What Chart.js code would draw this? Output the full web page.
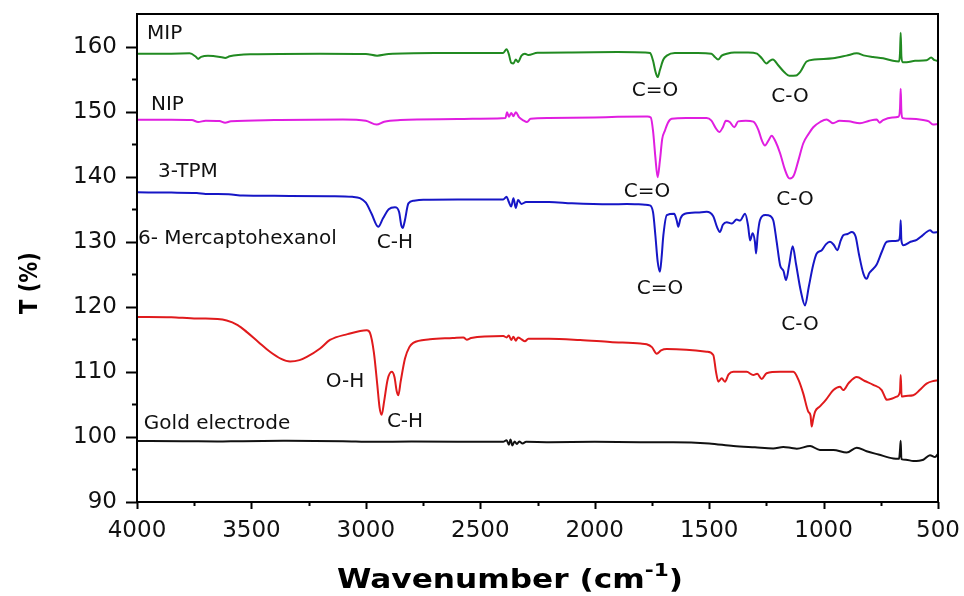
<!DOCTYPE html>
<html>
<head>
<meta charset="utf-8">
<title>FTIR spectra</title>
<script src="https://cdn.jsdelivr.net/npm/chart.js@4.4.1/dist/chart.umd.min.js"></script>
<style>
  html, body { margin: 0; padding: 0; background: #fff; }
  #wrap { width: 964px; height: 596px; }
</style>
</head>
<body>
<div id="wrap"><canvas id="ftir" width="964" height="596"></canvas></div>
<script>
// wavenumber (cm-1) / transmittance (%) pairs for each trace
const mipWn = [4000, 3850, 3770, 3745, 3733, 3720, 3690, 3660, 3630, 3615, 3595, 3500, 3200, 3000, 2951, 2900, 2700, 2400, 2385, 2375, 2365, 2355, 2345, 2335, 2320, 2305, 2290, 2250, 2100, 1900, 1780, 1758, 1745, 1735, 1725, 1715, 1700, 1685, 1650, 1550, 1490, 1475, 1461, 1445, 1423, 1390, 1330, 1291, 1270, 1249, 1235, 1221, 1200, 1170, 1150, 1120, 1100, 1074, 1040, 959, 900, 855, 820, 784, 740, 697, 670, 666, 663, 660, 655, 637, 600, 550, 530, 515, 500];
const mipT = [158.9, 158.9, 158.95, 158.5, 158.1, 158.4, 158.6, 158.5, 158.35, 158.25, 158.5, 158.8, 158.9, 158.85, 158.6, 158.85, 159.0, 159.0, 159.6, 158.8, 157.5, 157.4, 158.0, 157.6, 158.6, 158.9, 158.7, 159.05, 159.1, 159.15, 159.1, 159.0, 157.8, 156.2, 155.3, 156.4, 158.0, 158.6, 159.0, 159.0, 158.9, 158.4, 158.0, 158.6, 158.9, 159.1, 159.1, 158.9, 158.2, 157.4, 157.8, 158.0, 157.2, 156.0, 155.5, 155.55, 156.2, 157.7, 158.0, 158.2, 158.6, 158.95, 158.6, 158.4, 158.2, 157.8, 157.7, 159.0, 162.1, 158.5, 157.6, 157.6, 157.8, 157.9, 158.3, 157.9, 157.8];

const nipWn = [4000, 3850, 3760, 3733, 3700, 3640, 3615, 3590, 3400, 3100, 3000, 2953, 2920, 2850, 2600, 2428, 2390, 2383, 2375, 2365, 2355, 2345, 2330, 2310, 2296, 2280, 2200, 2000, 1900, 1770, 1755, 1745, 1735, 1725, 1715, 1705, 1693, 1680, 1664, 1600, 1511, 1490, 1470, 1456, 1440, 1427, 1410, 1390, 1373, 1340, 1307, 1285, 1270, 1256, 1240, 1227, 1210, 1190, 1170, 1155, 1147, 1130, 1110, 1089, 1065, 1045, 1015, 987, 959, 930, 890, 841, 800, 768, 755, 740, 700, 673, 666, 663, 660, 655, 620, 565, 540, 522, 500];
const nipT = [148.75, 148.75, 148.7, 148.4, 148.6, 148.55, 148.3, 148.5, 148.7, 148.8, 148.6, 148.0, 148.45, 148.7, 148.85, 148.95, 149.0, 149.9, 149.2, 149.8, 149.3, 149.9, 149.1, 148.6, 148.4, 148.9, 149.0, 149.1, 149.2, 149.25, 149.1, 147.0, 143.0, 139.9, 142.5, 145.8, 147.1, 148.3, 148.9, 149.0, 149.0, 148.6, 147.4, 146.85, 147.6, 148.6, 148.4, 147.6, 148.5, 148.6, 148.45, 147.2, 145.6, 144.8, 145.6, 146.3, 145.4, 143.6, 141.2, 139.9, 139.7, 140.2, 142.5, 145.1, 146.6, 147.6, 148.4, 148.8, 148.2, 148.6, 148.5, 148.2, 148.6, 148.8, 148.3, 148.7, 149.1, 149.2, 150.5, 153.5, 150.0, 149.0, 148.9, 148.7, 148.5, 148.0, 148.1];

const tpmWn = [4000, 3850, 3739, 3700, 3600, 3537, 3400, 3157, 3060, 3026, 3000, 2975, 2946, 2925, 2900, 2873, 2855, 2845, 2839, 2830, 2814, 2790, 2749, 2600, 2400, 2385, 2375, 2365, 2355, 2345, 2335, 2320, 2300, 2200, 2100, 1933, 1860, 1780, 1760, 1745, 1735, 1725, 1715, 1708, 1700, 1685, 1653, 1642, 1635, 1625, 1606, 1550, 1511, 1482, 1465, 1453, 1440, 1423, 1401, 1380, 1365, 1343, 1330, 1321, 1310, 1300, 1295, 1288, 1278, 1255, 1241, 1220, 1205, 1190, 1175, 1164, 1150, 1135, 1120, 1100, 1081, 1065, 1045, 1030, 1008, 990, 972, 955, 940, 925, 914, 895, 877, 860, 845, 826, 812, 800, 790, 768, 745, 724, 700, 673, 666, 663, 660, 651, 620, 593, 570, 550, 535, 520, 500];
const tpmT = [137.6, 137.55, 137.5, 137.35, 137.3, 137.1, 137.05, 137.0, 136.9, 136.7, 136.0, 134.3, 132.3, 133.6, 135.0, 135.3, 134.6, 132.5, 132.1, 133.2, 135.9, 136.3, 136.45, 136.5, 136.5, 136.9, 136.1, 135.4, 136.7, 135.2, 136.4, 135.8, 136.1, 136.1, 135.9, 135.75, 135.8, 135.7, 135.6, 134.5, 131.0, 127.0, 125.4, 127.5, 131.0, 134.1, 134.3, 133.3, 132.3, 133.6, 134.3, 134.5, 134.6, 133.9, 132.2, 131.5, 132.6, 133.0, 132.8, 133.4, 133.25, 134.3, 132.5, 130.2, 131.3, 130.0, 128.2, 131.0, 133.3, 134.1, 134.06, 133.3, 130.0, 126.4, 125.5, 124.1, 126.5, 129.3, 126.5, 122.5, 120.2, 123.0, 126.5, 128.2, 128.7, 129.6, 130.0, 129.5, 128.7, 130.2, 131.0, 131.2, 131.5, 130.8, 128.0, 125.1, 124.3, 125.2, 125.6, 126.5, 128.5, 130.0, 130.1, 130.2, 131.0, 133.3, 130.2, 129.45, 130.0, 130.3, 130.9, 131.5, 131.75, 131.4, 131.5];

const mchWn = [4000, 3850, 3739, 3700, 3608, 3560, 3521, 3470, 3419, 3370, 3331, 3290, 3258, 3200, 3157, 3080, 2996, 2982, 2965, 2950, 2940, 2931, 2920, 2905, 2887, 2875, 2865, 2858, 2848, 2829, 2810, 2793, 2720, 2620, 2574, 2559, 2540, 2399, 2385, 2375, 2365, 2355, 2345, 2335, 2320, 2305, 2290, 2200, 2064, 1933, 1800, 1773, 1750, 1729, 1710, 1685, 1600, 1511, 1482, 1470, 1460, 1445, 1431, 1415, 1394, 1336, 1307, 1290, 1270, 1249, 1190, 1132, 1110, 1089, 1067, 1057, 1052, 1045, 1037, 1016, 990, 957, 928, 914, 890, 855, 820, 783, 746, 730, 724, 700, 680, 666, 663, 659, 640, 608, 580, 550, 520, 500];
const mchT = [118.45, 118.4, 118.2, 118.2, 117.9, 117.2, 116.15, 114.6, 113.1, 112.0, 111.6, 111.8, 112.3, 113.6, 114.9, 115.8, 116.4, 116.0, 113.0, 108.0, 104.5, 103.4, 105.5, 108.8, 110.0, 109.2, 107.0, 106.4, 108.5, 112.05, 113.8, 114.45, 115.0, 115.2, 115.3, 114.95, 115.2, 115.5, 115.3, 115.6, 114.9, 115.4, 114.8, 115.3, 115.0, 114.7, 115.1, 115.1, 114.9, 114.6, 114.35, 114.25, 113.8, 112.8, 113.3, 113.5, 113.4, 113.1, 112.6, 110.0, 108.5, 109.0, 108.5, 109.6, 110.0, 110.0, 109.5, 109.7, 108.9, 109.8, 110.0, 110.0, 108.8, 106.7, 103.9, 103.3, 101.6, 102.8, 103.9, 104.7, 105.7, 107.2, 107.7, 107.2, 108.3, 109.2, 108.6, 108.0, 107.2, 106.0, 105.7, 105.9, 106.2, 107.0, 109.5, 106.2, 106.3, 106.4, 107.2, 108.2, 108.6, 108.7];

const goldWn = [4000, 3800, 3650, 3550, 3361, 3100, 2967, 2800, 2400, 2385, 2375, 2368, 2360, 2350, 2340, 2330, 2315, 2300, 2200, 2000, 1800, 1657, 1500, 1394, 1300, 1220, 1176, 1140, 1117, 1059, 1016, 957, 899, 855, 812, 760, 695, 670, 666, 663, 660, 640, 608, 564, 535, 513, 500];
const goldT = [99.36, 99.35, 99.3, 99.35, 99.4, 99.35, 99.25, 99.3, 99.25, 99.5, 98.8, 99.6, 98.7, 99.3, 98.9, 99.3, 99.0, 99.25, 99.2, 99.25, 99.2, 99.2, 99.0, 98.6, 98.4, 98.24, 98.45, 98.3, 98.2, 98.6, 98.0, 98.0, 97.6, 98.35, 97.8, 97.3, 96.7, 96.65, 98.0, 99.4, 96.6, 96.5, 96.3, 96.5, 97.2, 96.9, 97.4];

// band assignments and trace names, anchored in data units
const noteText = ["MIP", "NIP", "3-TPM", "6- Mercaptohexanol", "Gold electrode",
  "C=O", "C-O", "C=O", "C-O", "C-H", "C=O", "C-O", "O-H", "C-H"];
const noteWn = [3956, 3939, 3908, 3996, 3970, 1737, 1147, 1772, 1125, 2873, 1715, 1103, 3091, 2829];
const noteT = [162.0, 151.1, 140.7, 130.5, 102.0, 153.2, 152.3, 137.7, 136.4, 129.9, 122.7, 117.3, 108.4, 102.4];

const yTicks = [90, 100, 110, 120, 130, 140, 150, 160];
const xTicks = [4000, 3500, 3000, 2500, 2000, 1500, 1000, 500];

const FONT = "'DejaVu Sans', 'Liberation Sans', Arial, sans-serif";

function pairs(xs, ys) {
  return xs.map((x, i) => ({ x, y: ys[i] }));
}

function trace(label, xs, ys, color) {
  return {
    label,
    data: pairs(xs, ys),
    borderColor: color,
    borderWidth: 2,
    pointRadius: 0,
    fill: false,
    cubicInterpolationMode: "monotone",
  };
}

const frameAndNotes = {
  id: "frameAndNotes",
  afterDraw(chart) {
    const { ctx, chartArea: a, scales } = chart;
    const x = scales.x;
    const y = scales.y;
    ctx.save();
    ctx.strokeStyle = "#000";
    ctx.lineWidth = 2;
    ctx.strokeRect(a.left, a.top, a.right - a.left, a.bottom - a.top);

    // outward tick marks, minor ones halfway between labels
    ctx.beginPath();
    for (let v = 90; v <= 160; v += 5) {
      const py = Math.round(y.getPixelForValue(v)) + 0.5;
      const len = v % 10 === 0 ? 11 : 5;
      ctx.moveTo(a.left, py);
      ctx.lineTo(a.left - len, py);
    }
    for (let v = 500; v <= 4000; v += 250) {
      const px = Math.round(x.getPixelForValue(v)) + 0.5;
      const len = v % 500 === 0 ? 7 : 4;
      ctx.moveTo(px, a.bottom);
      ctx.lineTo(px, a.bottom + len);
    }
    ctx.stroke();

    ctx.fillStyle = "#111";
    ctx.font = `20px ${FONT}`;
    ctx.textBaseline = "middle";
    noteText.forEach((text, i) => {
      ctx.textAlign = i < 5 ? "left" : "center";
      ctx.fillText(text, x.getPixelForValue(noteWn[i]), y.getPixelForValue(noteT[i]));
    });

    // axis titles
    ctx.fillStyle = "#000";
    ctx.save();
    ctx.translate(30, 283);
    ctx.rotate(-Math.PI / 2);
    ctx.scale(1, 1.2);
    ctx.font = `bold 21px ${FONT}`;
    ctx.textAlign = "center";
    ctx.textBaseline = "middle";
    ctx.fillText("T (%)", 0, 0);
    ctx.restore();

    ctx.save();
    ctx.translate(510, 588);
    ctx.scale(1.2, 1);
    ctx.textBaseline = "alphabetic";
    ctx.textAlign = "left";
    ctx.font = `bold 26px ${FONT}`;
    const main = "Wavenumber (cm";
    const sup = "-1";
    const close = ")";
    const wMain = ctx.measureText(main).width;
    const wClose = ctx.measureText(close).width;
    ctx.font = `bold 18px ${FONT}`;
    const wSup = ctx.measureText(sup).width;
    let cx = -(wMain + wSup + wClose) / 2;
    ctx.font = `bold 26px ${FONT}`;
    ctx.fillText(main, cx, 0);
    cx += wMain;
    ctx.font = `bold 18px ${FONT}`;
    ctx.fillText(sup, cx, -12);
    cx += wSup;
    ctx.font = `bold 26px ${FONT}`;
    ctx.fillText(close, cx, 0);
    ctx.restore();
    ctx.restore();
  },
};

new Chart(document.getElementById("ftir"), {
  type: "line",
  data: {
    datasets: [
      trace("Gold electrode", goldWn, goldT, "#111111"),
      trace("6- Mercaptohexanol", mchWn, mchT, "#e01a1c"),
      trace("3-TPM", tpmWn, tpmT, "#1616c6"),
      trace("NIP", nipWn, nipT, "#e01ee0"),
      trace("MIP", mipWn, mipT, "#218a21"),
    ],
  },
  options: {
    responsive: false,
    animation: false,
    layout: { padding: { left: 0, top: 14, right: 26, bottom: 0 } },
    plugins: { legend: { display: false }, tooltip: { enabled: false } },
    scales: {
      x: {
        type: "linear",
        reverse: true,
        min: 500,
        max: 4000,
        grid: { display: false, drawTicks: false },
        border: { display: false },
        ticks: {
          stepSize: 500,
          padding: 15,
          color: "#111",
          font: { family: FONT, size: 23 },
          maxRotation: 0,
          callback: (v) => (xTicks.includes(v) ? String(v) : ""),
        },
        afterFit(scale) {
          scale.height = 94;
          scale.paddingLeft = 0;
          scale.paddingRight = 0;
        },
      },
      y: {
        min: 90,
        max: 165,
        grid: { display: false, drawTicks: false },
        border: { display: false },
        ticks: {
          stepSize: 10,
          includeBounds: false,
          padding: 20,
          color: "#111",
          font: { family: FONT, size: 23 },
          callback: (v) => (yTicks.includes(v) ? String(v) : ""),
        },
        afterFit(scale) {
          scale.width = 137;
          scale.paddingTop = 0;
          scale.paddingBottom = 0;
        },
      },
    },
  },
  plugins: [frameAndNotes],
});
</script>
</body>
</html>
